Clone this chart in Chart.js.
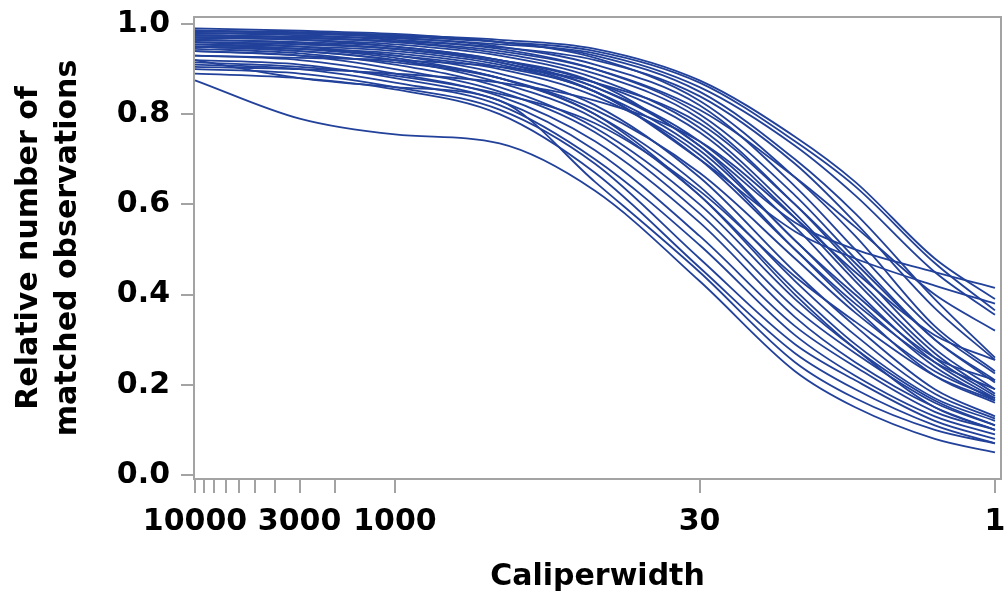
<!DOCTYPE html>
<html>
<head>
<meta charset="utf-8">
<script src="https://cdn.jsdelivr.net/npm/chart.js@4.4.1/dist/chart.umd.min.js"></script>
<style>
  html, body { margin: 0; padding: 0; background: #fff; }
  #wrap { width: 1004px; height: 591px; }
</style>
</head>
<body>
<div id="wrap"><canvas id="chart" width="1004" height="591"></canvas></div>
<script>
const caliperWidths = [10000, 3000, 1000, 300, 100, 30, 10, 5, 2, 1];

// late decliners (highest on the right)
const topRuns = [
  [0.985, 0.980, 0.975, 0.965, 0.945, 0.875, 0.75, 0.65, 0.48, 0.39],
  [0.980, 0.978, 0.972, 0.960, 0.940, 0.870, 0.74, 0.64, 0.47, 0.365],
  [0.975, 0.972, 0.968, 0.955, 0.935, 0.860, 0.73, 0.62, 0.45, 0.355],
  [0.990, 0.985, 0.978, 0.960, 0.930, 0.850, 0.70, 0.58, 0.39, 0.26],
  [0.970, 0.968, 0.962, 0.948, 0.920, 0.840, 0.69, 0.56, 0.37, 0.255],
  [0.975, 0.970, 0.960, 0.940, 0.900, 0.810, 0.66, 0.55, 0.40, 0.32]
];
// the two curves that flatten out late and cross the bundle
const flatRuns = [
  [0.960, 0.955, 0.945, 0.920, 0.870, 0.730, 0.56, 0.50, 0.45, 0.415],
  [0.950, 0.945, 0.935, 0.905, 0.850, 0.700, 0.54, 0.48, 0.42, 0.38]
];
const middleRuns = [
  [0.985, 0.980, 0.970, 0.950, 0.910, 0.820, 0.64, 0.50, 0.32, 0.225],
  [0.980, 0.975, 0.965, 0.945, 0.900, 0.800, 0.62, 0.48, 0.30, 0.205],
  [0.975, 0.970, 0.960, 0.935, 0.890, 0.790, 0.60, 0.46, 0.28, 0.19],
  [0.970, 0.965, 0.955, 0.930, 0.880, 0.770, 0.58, 0.44, 0.27, 0.18],
  [0.965, 0.960, 0.950, 0.920, 0.870, 0.760, 0.57, 0.43, 0.26, 0.175],
  [0.960, 0.955, 0.945, 0.915, 0.860, 0.740, 0.55, 0.41, 0.25, 0.17],
  [0.955, 0.950, 0.940, 0.910, 0.850, 0.720, 0.52, 0.39, 0.24, 0.165],
  [0.950, 0.945, 0.930, 0.900, 0.840, 0.710, 0.50, 0.37, 0.22, 0.16],
  [0.930, 0.925, 0.920, 0.905, 0.870, 0.780, 0.60, 0.47, 0.30, 0.21],
  [0.905, 0.900, 0.890, 0.870, 0.830, 0.740, 0.57, 0.45, 0.31, 0.255],
  [0.985, 0.982, 0.975, 0.960, 0.925, 0.830, 0.66, 0.53, 0.33, 0.23],
  [0.965, 0.958, 0.945, 0.915, 0.850, 0.700, 0.50, 0.38, 0.25, 0.19],
  [0.970, 0.965, 0.950, 0.920, 0.860, 0.730, 0.52, 0.40, 0.26, 0.21]
];
// early decliners (lowest on the right)
const earlyRuns = [
  [0.960, 0.950, 0.930, 0.890, 0.820, 0.660, 0.45, 0.33, 0.19, 0.13],
  [0.955, 0.945, 0.925, 0.880, 0.800, 0.640, 0.43, 0.31, 0.18, 0.125],
  [0.950, 0.940, 0.920, 0.870, 0.790, 0.620, 0.41, 0.29, 0.17, 0.12],
  [0.945, 0.935, 0.910, 0.860, 0.770, 0.600, 0.39, 0.28, 0.165, 0.11],
  [0.940, 0.930, 0.900, 0.850, 0.760, 0.580, 0.37, 0.27, 0.16, 0.11],
  [0.930, 0.920, 0.890, 0.840, 0.740, 0.560, 0.35, 0.25, 0.15, 0.10],
  [0.920, 0.910, 0.880, 0.830, 0.720, 0.530, 0.33, 0.24, 0.14, 0.10],
  [0.910, 0.900, 0.870, 0.820, 0.700, 0.510, 0.31, 0.22, 0.13, 0.09],
  [0.900, 0.890, 0.860, 0.810, 0.690, 0.480, 0.29, 0.21, 0.12, 0.08],
  [0.890, 0.880, 0.855, 0.800, 0.670, 0.460, 0.27, 0.19, 0.11, 0.07],
  [0.920, 0.880, 0.860, 0.830, 0.650, 0.450, 0.25, 0.17, 0.10, 0.07],
  [0.940, 0.930, 0.915, 0.880, 0.810, 0.670, 0.48, 0.36, 0.23, 0.17],
  [0.915, 0.905, 0.885, 0.845, 0.780, 0.630, 0.44, 0.34, 0.22, 0.165],
  [0.950, 0.940, 0.920, 0.880, 0.800, 0.620, 0.40, 0.28, 0.15, 0.10],
  [0.875, 0.790, 0.755, 0.735, 0.630, 0.430, 0.23, 0.15, 0.08, 0.05]
];

const xTickValues = [10000, 9000, 8000, 7000, 6000, 5000, 4000, 3000, 2000, 1000, 30, 1];
const xTickLabels = [10000, 3000, 1000, 30, 1];
const yTickValues = [0, 0.2, 0.4, 0.6, 0.8, 1.0];

const lineColor = '#22419a';
const axisGray = '#a3a3a3';
const font = 'DejaVu Sans';

const allRuns = [...topRuns, ...flatRuns, ...middleRuns, ...earlyRuns];
const datasets = allRuns.map(run => ({
  data: run.map((v, i) => ({ x: caliperWidths[i], y: v })),
  borderColor: lineColor,
  borderWidth: 1.8,
  pointRadius: 0,
  cubicInterpolationMode: 'monotone',
  fill: false
}));

// grey frame round the plot area (top and right sides)
const framePlugin = {
  id: 'frame',
  afterDraw(chart) {
    const { ctx, chartArea: a } = chart;
    ctx.save();
    ctx.strokeStyle = axisGray;
    ctx.lineWidth = 2;
    ctx.beginPath();
    ctx.moveTo(a.left, a.top);
    ctx.lineTo(a.right, a.top);
    ctx.lineTo(a.right, a.bottom);
    ctx.stroke();
    ctx.restore();
  }
};

// no extra room for labels hanging over the plot edges
function noOverhang(s) {
  s.paddingTop = 0;
  s.paddingBottom = 0;
  s.paddingLeft = 0;
  s.paddingRight = 0;
}

new Chart(document.getElementById('chart'), {
  type: 'line',
  data: { datasets },
  plugins: [framePlugin],
  options: {
    responsive: false,
    animation: false,
    devicePixelRatio: 1,
    layout: { padding: { top: 17, right: 3, left: 0, bottom: 0 } },
    plugins: { legend: { display: false }, tooltip: { enabled: false } },
    scales: {
      x: {
        type: 'logarithmic',
        reverse: true,
        min: 0.933,
        max: 10116,
        afterBuildTicks: s => { s.ticks = xTickValues.map(v => ({ value: v })); },
        afterFit: s => { s.height = 112; noOverhang(s); },
        ticks: {
          autoSkip: false,
          maxRotation: 0,
          padding: 11,
          color: '#000',
          font: { family: font, size: 30, weight: 'bold' },
          callback: v => xTickLabels.includes(v) ? String(v) : ''
        },
        grid: { drawOnChartArea: false, tickLength: 14, color: axisGray, lineWidth: 2 },
        border: { color: axisGray, width: 2 },
        title: {
          display: true,
          text: 'Caliperwidth',
          color: '#000',
          padding: { top: 0, bottom: 0 },
          font: { family: font, size: 30, weight: 'bold', lineHeight: 0.9 }
        }
      },
      y: {
        min: -0.009,
        max: 1.0155,
        afterBuildTicks: s => { s.ticks = yTickValues.map(v => ({ value: v })); },
        afterFit: s => { s.width = 194; noOverhang(s); },
        ticks: {
          padding: 11,
          color: '#000',
          font: { family: font, size: 30, weight: 'bold' },
          callback: v => v.toFixed(1)
        },
        grid: { drawOnChartArea: false, tickLength: 13, color: axisGray, lineWidth: 2 },
        border: { color: axisGray, width: 2 },
        title: {
          display: true,
          text: ['Relative number of', 'matched observations'],
          color: '#000',
          padding: { top: 10, bottom: 0 },
          font: { family: font, size: 30, weight: 'bold', lineHeight: 1.3 }
        }
      }
    }
  }
});
</script>
</body>
</html>
